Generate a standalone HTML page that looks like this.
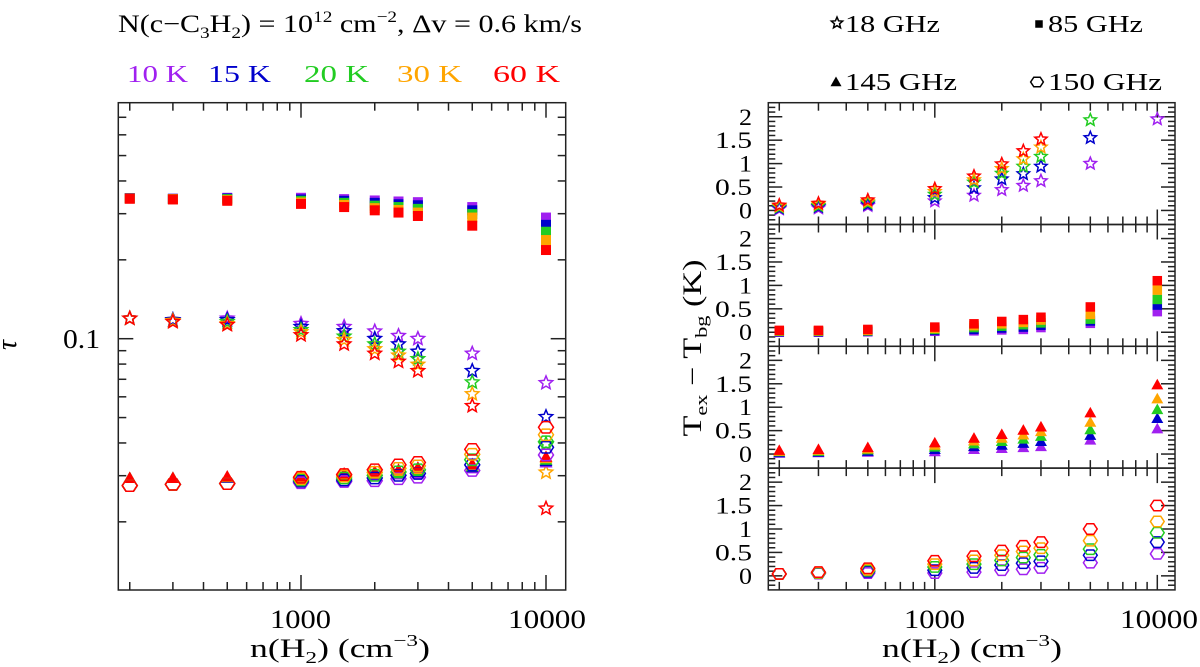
<!DOCTYPE html>
<html><head><meta charset="utf-8">
<style>
html,body{margin:0;padding:0;background:#fff;}
svg{display:block;font-family:"Liberation Serif","DejaVu Serif",serif;}
</style></head>
<body>
<svg id="chart" width="1200" height="667" viewBox="0 0 1200 667" xmlns="http://www.w3.org/2000/svg">
<defs>
<clipPath id="clipL"><rect x="118.3" y="102.7" width="447.4" height="487.3"/></clipPath>
<clipPath id="clipR"><rect x="768.3" y="102.7" width="406.7" height="487.3"/></clipPath>
</defs>
<g id="titles">
<text x="118" y="32" font-size="25" textLength="464" lengthAdjust="spacingAndGlyphs">N(c−C<tspan font-size="16" dy="6">3</tspan><tspan dy="-6">H</tspan><tspan font-size="16" dy="6">2</tspan><tspan dy="-6">)  =  10</tspan><tspan font-size="16" dy="-10">12</tspan><tspan dy="10">  cm</tspan><tspan font-size="16" dy="-10">−2</tspan><tspan dy="10">,  Δv  =  0.6  km/s</tspan></text>
<text x="127" y="82" font-size="24" fill="#a020f0" textLength="61" lengthAdjust="spacingAndGlyphs">10 K</text>
<text x="208" y="82" font-size="24" fill="#0000cc" textLength="63" lengthAdjust="spacingAndGlyphs">15 K</text>
<text x="304" y="82" font-size="24" fill="#22cc22" textLength="65" lengthAdjust="spacingAndGlyphs">20 K</text>
<text x="397" y="82" font-size="24" fill="#ffa500" textLength="65" lengthAdjust="spacingAndGlyphs">30 K</text>
<text x="493" y="82" font-size="24" fill="#ff0000" textLength="67" lengthAdjust="spacingAndGlyphs">60 K</text>
<text x="845" y="32" font-size="24" textLength="95" lengthAdjust="spacingAndGlyphs">18 GHz</text>
<text x="1048" y="32" font-size="24" textLength="95" lengthAdjust="spacingAndGlyphs">85 GHz</text>
<text x="845" y="90" font-size="24" textLength="112" lengthAdjust="spacingAndGlyphs">145 GHz</text>
<text x="1048" y="90" font-size="24" textLength="114" lengthAdjust="spacingAndGlyphs">150 GHz</text>
</g>
<g id="legendMarks"></g>
<g id="axesL"></g>
<g id="axesR"></g>
<g id="dataL" clip-path="url(#clipL)"></g>
<g id="dataR" clip-path="url(#clipR)"></g>
<text x="16" y="345" font-size="28" font-style="italic" transform="rotate(-90 16 345)" text-anchor="middle">τ</text>
<text x="63" y="348" font-size="27" textLength="37" lengthAdjust="spacingAndGlyphs">0.1</text>
<text x="270" y="628" font-size="26" textLength="61" lengthAdjust="spacingAndGlyphs">1000</text>
<text x="508" y="628" font-size="26" textLength="78" lengthAdjust="spacingAndGlyphs">10000</text>
<text x="250" y="657" font-size="26" textLength="180" lengthAdjust="spacingAndGlyphs">n(H<tspan font-size="17" dy="6">2</tspan><tspan dy="-6">)  (cm</tspan><tspan font-size="17" dy="-11">−3</tspan><tspan dy="11">)</tspan></text>
<text x="904" y="628" font-size="26" textLength="61" lengthAdjust="spacingAndGlyphs">1000</text>
<text x="1120" y="628" font-size="26" textLength="78" lengthAdjust="spacingAndGlyphs">10000</text>
<text x="882" y="657" font-size="26" textLength="180" lengthAdjust="spacingAndGlyphs">n(H<tspan font-size="17" dy="6">2</tspan><tspan dy="-6">)  (cm</tspan><tspan font-size="17" dy="-11">−3</tspan><tspan dy="11">)</tspan></text>
<text x="604.5" y="356" font-size="26" textLength="177" lengthAdjust="spacingAndGlyphs" transform="rotate(-90 693 348)">T<tspan font-size="17" dy="6">ex</tspan><tspan dy="-6">  −  T</tspan><tspan font-size="17" dy="6">bg</tspan><tspan dy="-6">  (K)</tspan></text>
</svg>
<script>
const NS = "http://www.w3.org/2000/svg";
const densities = [200,300,500,1000,1500,2000,2500,3000,5000,10000];
const tempColors = ["#a020f0","#0000cc","#22cc22","#ffa500","#ff0000"];
const tempLabels = ["10 K","15 K","20 K","30 K","60 K"];
const tau85 = [
 [0.344,0.342,0.345,0.345,0.341,0.337,0.334,0.332,0.318,0.290],
 [0.344,0.342,0.343,0.340,0.336,0.330,0.326,0.323,0.309,0.272],
 [0.343,0.341,0.341,0.336,0.330,0.322,0.318,0.313,0.299,0.256],
 [0.343,0.341,0.338,0.331,0.324,0.315,0.310,0.303,0.290,0.238],
 [0.342,0.340,0.336,0.327,0.318,0.309,0.303,0.294,0.270,0.218]];
const tau18 = [
 [0.1195,0.118,0.1195,0.114,0.111,0.1067,0.1026,0.100,0.0878,0.0678],
 [0.1195,0.118,0.118,0.111,0.107,0.100,0.0953,0.0893,0.0754,0.0503],
 [0.1195,0.117,0.116,0.108,0.102,0.0953,0.0893,0.0837,0.0682,0.0397],
 [0.1195,0.117,0.114,0.106,0.099,0.0913,0.0864,0.0797,0.0615,0.0309],
 [0.1195,0.116,0.113,0.1033,0.0953,0.0878,0.0818,0.0754,0.0554,0.0225]];
const tau145 = [
 [0.0294,0.0294,0.0294,0.0290,0.0296,0.0300,0.0303,0.0306,0.0320,0.0337],
 [0.0294,0.0294,0.0295,0.0292,0.0299,0.0303,0.0307,0.0310,0.0323,0.0341],
 [0.0294,0.0294,0.0296,0.0294,0.0301,0.0306,0.0310,0.0314,0.0326,0.0345],
 [0.0294,0.0294,0.0297,0.0296,0.0304,0.0309,0.0313,0.0318,0.0329,0.0350],
 [0.0294,0.0294,0.0298,0.0298,0.0306,0.0311,0.0316,0.0322,0.0332,0.0354]];
const tau150 = [
 [0.0275,0.0278,0.0280,0.0282,0.0285,0.0287,0.0292,0.0296,0.0314,0.0360],
 [0.0275,0.0278,0.0280,0.0286,0.0289,0.0294,0.0301,0.0306,0.0330,0.0385],
 [0.0275,0.0278,0.0280,0.0289,0.0294,0.0301,0.0310,0.0316,0.0345,0.0404],
 [0.0275,0.0278,0.0280,0.0292,0.0299,0.0309,0.0320,0.0327,0.0362,0.0430],
 [0.0275,0.0278,0.0280,0.0296,0.0303,0.0316,0.0330,0.0337,0.0378,0.0459]];
const dT18 = [
 [0.03,0.05,0.10,0.20,0.32,0.44,0.53,0.63,1.00,1.95],
 [0.05,0.08,0.13,0.27,0.48,0.67,0.78,0.94,1.55,2.9],
 [0.07,0.10,0.16,0.34,0.60,0.79,0.94,1.15,1.93,3.5],
 [0.09,0.13,0.19,0.40,0.65,0.89,1.10,1.35,2.5,4.0],
 [0.11,0.15,0.22,0.46,0.73,0.99,1.27,1.52,3.0,4.6]];
const dT85 = [
 [0.00,0.00,0.01,0.02,0.03,0.05,0.06,0.10,0.19,0.44],
 [0.01,0.01,0.02,0.04,0.06,0.09,0.11,0.15,0.24,0.58],
 [0.02,0.02,0.03,0.06,0.10,0.13,0.16,0.20,0.28,0.70],
 [0.03,0.03,0.04,0.08,0.14,0.18,0.21,0.26,0.38,0.90],
 [0.04,0.04,0.06,0.11,0.18,0.23,0.27,0.32,0.54,1.10]];
const dT145 = [
 [0.02,0.03,0.04,0.05,0.10,0.12,0.14,0.16,0.30,0.54],
 [0.03,0.04,0.06,0.10,0.16,0.19,0.23,0.27,0.40,0.76],
 [0.05,0.06,0.09,0.15,0.22,0.27,0.32,0.38,0.52,0.95],
 [0.06,0.08,0.11,0.19,0.28,0.34,0.41,0.48,0.68,1.18],
 [0.08,0.10,0.14,0.24,0.34,0.42,0.51,0.58,0.88,1.48]];
const dT150 = [
 [0.04,0.05,0.06,0.06,0.08,0.12,0.14,0.17,0.28,0.47],
 [0.04,0.06,0.09,0.12,0.17,0.23,0.27,0.31,0.44,0.72],
 [0.04,0.06,0.11,0.19,0.25,0.33,0.39,0.45,0.57,0.92],
 [0.04,0.07,0.13,0.25,0.33,0.44,0.52,0.59,0.75,1.16],
 [0.04,0.08,0.16,0.32,0.42,0.54,0.64,0.72,1.00,1.50]];
const rightTickLabels = ["0","0.5","1","1.5","2"];
const rightTickValues = [0,0.5,1,1.5,2];

const L = {x0:118.3,x1:565.7,y0:102.7,y1:590};
function xL(n){return 301+245*(Math.log10(n)-3);}
function yL(t){return 338.7-262*(Math.log10(t)+1);}
const R = {x0:768.3,x1:1175,y0:102.7,h:121.8};
function xR(n){return 934.8+222.5*(Math.log10(n)-3);}
function yR(v,k){const b=R.y0+R.h*(k+1);return b-(v+0.3)/2.6*R.h;}

function mk(tag,attrs,parent){const e=document.createElementNS(NS,tag);for(const k in attrs)e.setAttribute(k,attrs[k]);parent.appendChild(e);return e;}
function line(g,x1,y1,x2,y2){return mk("line",{x1:x1,y1:y1,x2:x2,y2:y2,stroke:"#222","stroke-width":1.5},g);}
function starPts(cx,cy,r){let p=[];for(let i=0;i<10;i++){const a=-Math.PI/2+i*Math.PI/5;const rr=i%2?r*0.45:r;p.push((cx+rr*Math.cos(a)).toFixed(2)+","+(cy+rr*Math.sin(a)).toFixed(2));}return p.join(" ");}
function hexPts(cx,cy,r){let p=[];for(let i=0;i<6;i++){const a=i*Math.PI/3;p.push((cx+r*Math.cos(a)).toFixed(2)+","+(cy+r*0.87*Math.sin(a)).toFixed(2));}return p.join(" ");}
function marker(g,type,cx,cy,col,s){
  let e;
  if(type==="star"){e=mk("polygon",{points:starPts(cx,cy,7*s),fill:"none",stroke:col,"stroke-width":1.5},g);}
  else if(type==="square"){e=mk("rect",{x:cx-5*s,y:cy-5*s,width:10*s,height:10*s,fill:col},g);}
  else if(type==="tri"){e=mk("polygon",{points:`${cx},${cy-6.5*s} ${cx+6.5*s},${cy+5*s} ${cx-6.5*s},${cy+5*s}`,fill:col},g);}
  else {e=mk("polygon",{points:hexPts(cx,cy,7.5*s),fill:"none",stroke:col,"stroke-width":1.5},g);}
  return e;
}

const lg=document.getElementById("legendMarks");
let lm;
lm=marker(lg,"star",837,23,"#000",0.85);


lm=marker(lg,"square",1039,24,"#000",0.75);


lm=marker(lg,"tri",836,82,"#000",0.85);


lm=marker(lg,"hex",1037,82,"#000",0.85);



const aL=document.getElementById("axesL");
const fr=mk("rect",{x:L.x0,y:L.y0,width:L.x1-L.x0,height:L.y1-L.y0,fill:"none",stroke:"#222","stroke-width":1.5},aL);


for(let d=2;d<=4;d++){for(let m=1;m<=9;m++){const n=m*Math.pow(10,d);const x=xL(n);if(x<L.x0||x>L.x1)continue;const len=m===1?15:8;line(aL,x,L.y1,x,L.y1-len);line(aL,x,L.y0,x,L.y0+len);}}
for(let d=-2;d<=-1;d++){for(let m=1;m<=9;m++){const t=m*Math.pow(10,d);const y=yL(t);if(y<L.y0||y>L.y1)continue;const len=m===1?15:8;line(aL,L.x0,y,L.x0+len,y);line(aL,L.x1,y,L.x1-len,y);}}

const aR=document.getElementById("axesR");
for(let k=0;k<4;k++){
  const top=R.y0+R.h*k, bot=top+R.h;
  const pr=mk("rect",{x:R.x0,y:top,width:R.x1-R.x0,height:R.h,fill:"none",stroke:"#222","stroke-width":1.5},aR);
  
  
  for(let d=2;d<=4;d++){for(let m=1;m<=9;m++){const n=m*Math.pow(10,d);const x=xR(n);if(x<R.x0||x>R.x1)continue;const len=m===1?15:8;line(aR,x,bot,x,bot-len);line(aR,x,top,x,top+len);}}
  for(let i=-2;i<=22;i++){const v=i/10;const y=yR(v,k);if(y<top||y>bot)continue;const len=i%5===0?14:7;line(aR,R.x0,y,R.x0+len,y);line(aR,R.x1,y,R.x1-len,y);}
  rightTickValues.forEach((v,i)=>{
    const lab=rightTickLabels[i];
    const w=lab.length===1?13:37;
    const t=mk("text",{x:752-w,y:yR(v,k)+8,"font-size":23,textLength:w,lengthAdjust:"spacingAndGlyphs"},aR);
    t.textContent=lab;
    
    
  });
}

const dL=document.getElementById("dataL");
function drawL(arr,type,name){
  arr.forEach((ser,ci)=>{ser.forEach((v,i)=>{
    const e=marker(dL,type,xL(densities[i]),yL(v),tempColors[ci],1);
    
    
  });});
}
drawL(tau85,"square","tau-85ghz");
drawL(tau18,"star","tau-18ghz");
drawL(tau145,"tri","tau-145ghz");
drawL(tau150,"hex","tau-150ghz");

const dR=document.getElementById("dataR");
function drawR(arr,type,k,name){
  arr.forEach((ser,ci)=>{ser.forEach((v,i)=>{
    const y=yR(v,k); const top=R.y0+R.h*k;
    if(y<top-2) return;
    const e=marker(dR,type,xR(densities[i]),y,tempColors[ci],type==="square"?0.95:0.92);
    
    
  });});
}
drawR(dT18,"star",0,"dt-18ghz");
drawR(dT85,"square",1,"dt-85ghz");
drawR(dT145,"tri",2,"dt-145ghz");
drawR(dT150,"hex",3,"dt-150ghz");
</script>
</body></html>
